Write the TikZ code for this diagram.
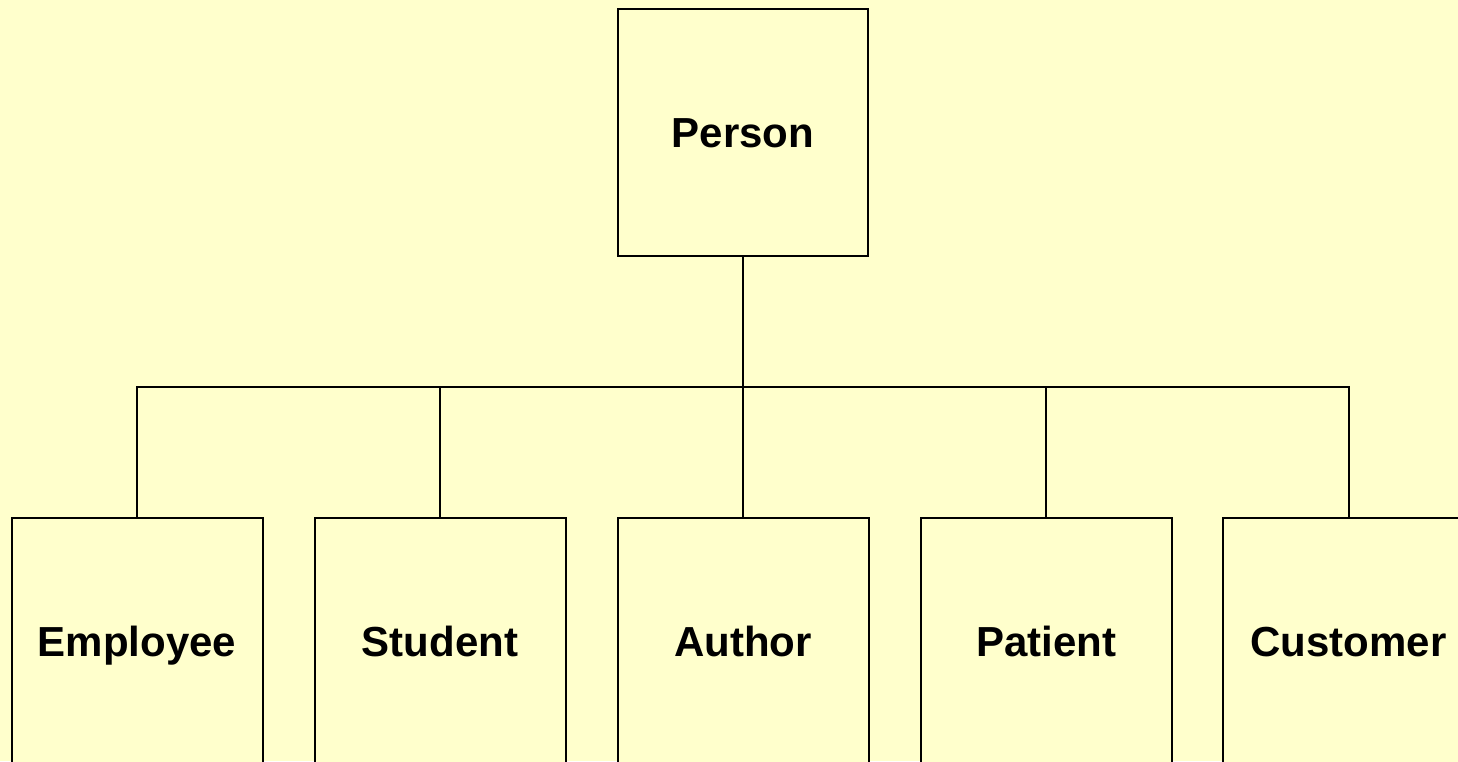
\documentclass[tikz,border=0pt]{standalone}
\usepackage{fontspec}
\setmainfont{Liberation Sans}
\definecolor{bg}{HTML}{FFFFCC}
\begin{document}
\begin{tikzpicture}[x=1pt,y=-1pt,
  box/.style={draw=black,line width=2pt,fill=bg,minimum width=251pt,minimum height=247pt,inner sep=0pt,
    text height=30pt,text depth=0pt,
    font=\fontsize{42}{48}\selectfont\bfseries},
  conn/.style={draw=black,line width=2pt}]
\useasboundingbox (0,0) rectangle (1458,761);
\fill[bg] (0,0) rectangle (1458,761);
\clip (0,0) rectangle (1458,761);
\node[box,minimum width=250pt] (person) at (743,132.5) {Person};
\node[box] (emp) at (137,641) {Employee};
\node[box] (stu) at (440,641) {Student};
\node[box] (aut) at (743,641) {Author};
\node[box] (pat) at (1046,641) {Patient};
\node[box] (cus) at (1348.5,641) {Customer};
\coordinate (bus) at (743,387);
\draw[conn] (person.south) -- (bus);
\draw[conn] (emp.north) |- (bus);
\draw[conn] (stu.north) |- (bus);
\draw[conn] (aut.north) -- (bus);
\draw[conn] (pat.north) |- (bus);
\draw[conn] (cus.north) |- (bus);
\end{tikzpicture}
\end{document}
